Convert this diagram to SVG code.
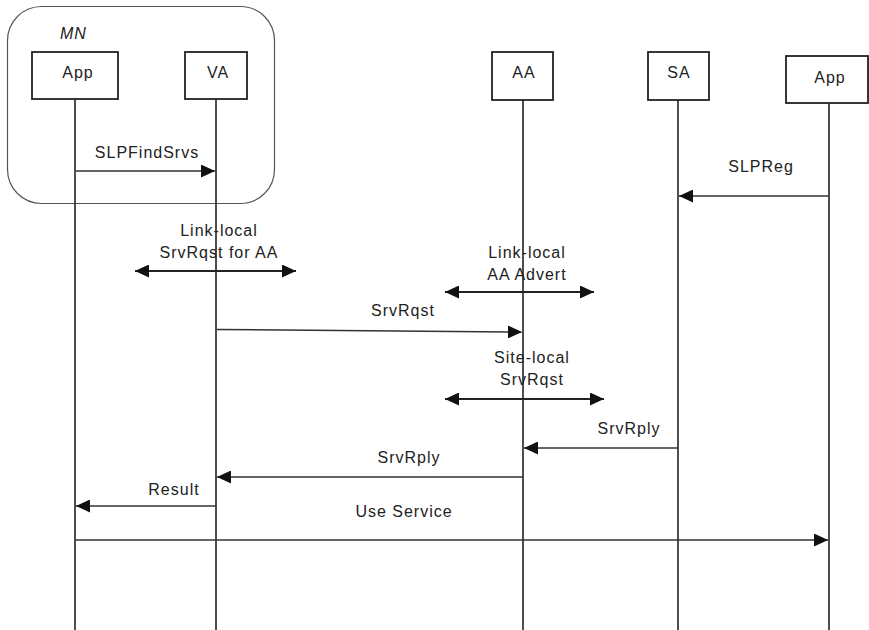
<svg xmlns="http://www.w3.org/2000/svg" width="869" height="630" viewBox="0 0 869 630">
  <style>
    text { font-family: "Liberation Sans", Arial, sans-serif; font-size: 16px; letter-spacing: 1px; fill: #222; }
    .mid { text-anchor: middle; }
    .box { fill: #fff; stroke: #222; stroke-width: 1.8; }
    .life { stroke: #222; stroke-width: 1.6; fill: none; }
    .msg { stroke: #333; stroke-width: 1.5; fill: none; marker-end: url(#head); }
    .both { stroke: #222; stroke-width: 1.8; fill: none; marker-start: url(#head); marker-end: url(#head); }
  </style>
  <defs>
    <marker id="head" markerUnits="userSpaceOnUse" markerWidth="15" markerHeight="13" refX="14" refY="6.5" orient="auto-start-reverse">
      <path d="M0,0 L14,6.5 L0,13 z" fill="#111"/>
    </marker>
  </defs>
  <rect width="869" height="630" fill="#fff"/>

  <!-- mobile node grouping -->
  <g id="mn">
    <rect x="7.5" y="6.5" width="267" height="197" rx="34" fill="none" stroke="#555" stroke-width="1.2"/>
    <text x="60" y="39" font-style="italic">MN</text>
  </g>

  <!-- lifelines -->
  <g id="lifelines">
    <line class="life" x1="75" y1="99" x2="75" y2="630"/>
    <line class="life" x1="216" y1="99" x2="216" y2="630"/>
    <line class="life" x1="523" y1="100" x2="523" y2="630"/>
    <line class="life" x1="678" y1="100" x2="678" y2="630"/>
    <line class="life" x1="829" y1="103" x2="829" y2="630"/>
  </g>

  <g id="app-mn">
    <rect class="box" x="32" y="52" width="86" height="47"/>
    <text class="mid" x="78" y="78">App</text>
  </g>
  <g id="va">
    <rect class="box" x="185" y="52" width="62" height="47"/>
    <text class="mid" x="218" y="78">VA</text>
  </g>
  <g id="aa">
    <rect class="box" x="492" y="52" width="61" height="48"/>
    <text class="mid" x="524" y="78">AA</text>
  </g>
  <g id="sa">
    <rect class="box" x="648" y="52" width="61" height="48"/>
    <text class="mid" x="679" y="78">SA</text>
  </g>
  <g id="app-remote">
    <rect class="box" x="786" y="56" width="82" height="47"/>
    <text class="mid" x="830" y="83">App</text>
  </g>

  <!-- messages -->
  <g id="connectors">
    <line class="msg" x1="76" y1="171" x2="215" y2="171"/>
    <text class="mid" x="147" y="158">SLPFindSrvs</text>

    <line class="msg" x1="829" y1="196" x2="679" y2="196" stroke="#666"/>
    <text class="mid" x="761" y="172">SLPReg</text>

    <line class="both" x1="135" y1="271" x2="296" y2="271"/>
    <text class="mid" x="219" y="236">Link-local</text>
    <text class="mid" x="219" y="258">SrvRqst for AA</text>

    <line class="both" x1="445" y1="292" x2="594" y2="292"/>
    <text class="mid" x="527" y="258">Link-local</text>
    <text class="mid" x="527" y="280">AA Advert</text>

    <line class="msg" x1="217" y1="329.5" x2="522" y2="332"/>
    <text class="mid" x="403" y="316">SrvRqst</text>

    <line class="both" x1="445" y1="399" x2="604" y2="399"/>
    <text class="mid" x="532" y="363">Site-local</text>
    <text class="mid" x="532" y="385">SrvRqst</text>

    <line class="msg" x1="678" y1="448" x2="524" y2="448"/>
    <text class="mid" x="629" y="434">SrvRply</text>

    <line class="msg" x1="523" y1="477" x2="217" y2="477"/>
    <text class="mid" x="409" y="463">SrvRply</text>

    <line class="msg" x1="216" y1="506" x2="76" y2="506"/>
    <text class="mid" x="174" y="495">Result</text>

    <line class="msg" x1="75" y1="540" x2="828" y2="540"/>
    <text class="mid" x="404" y="517">Use Service</text>
  </g>
</svg>
